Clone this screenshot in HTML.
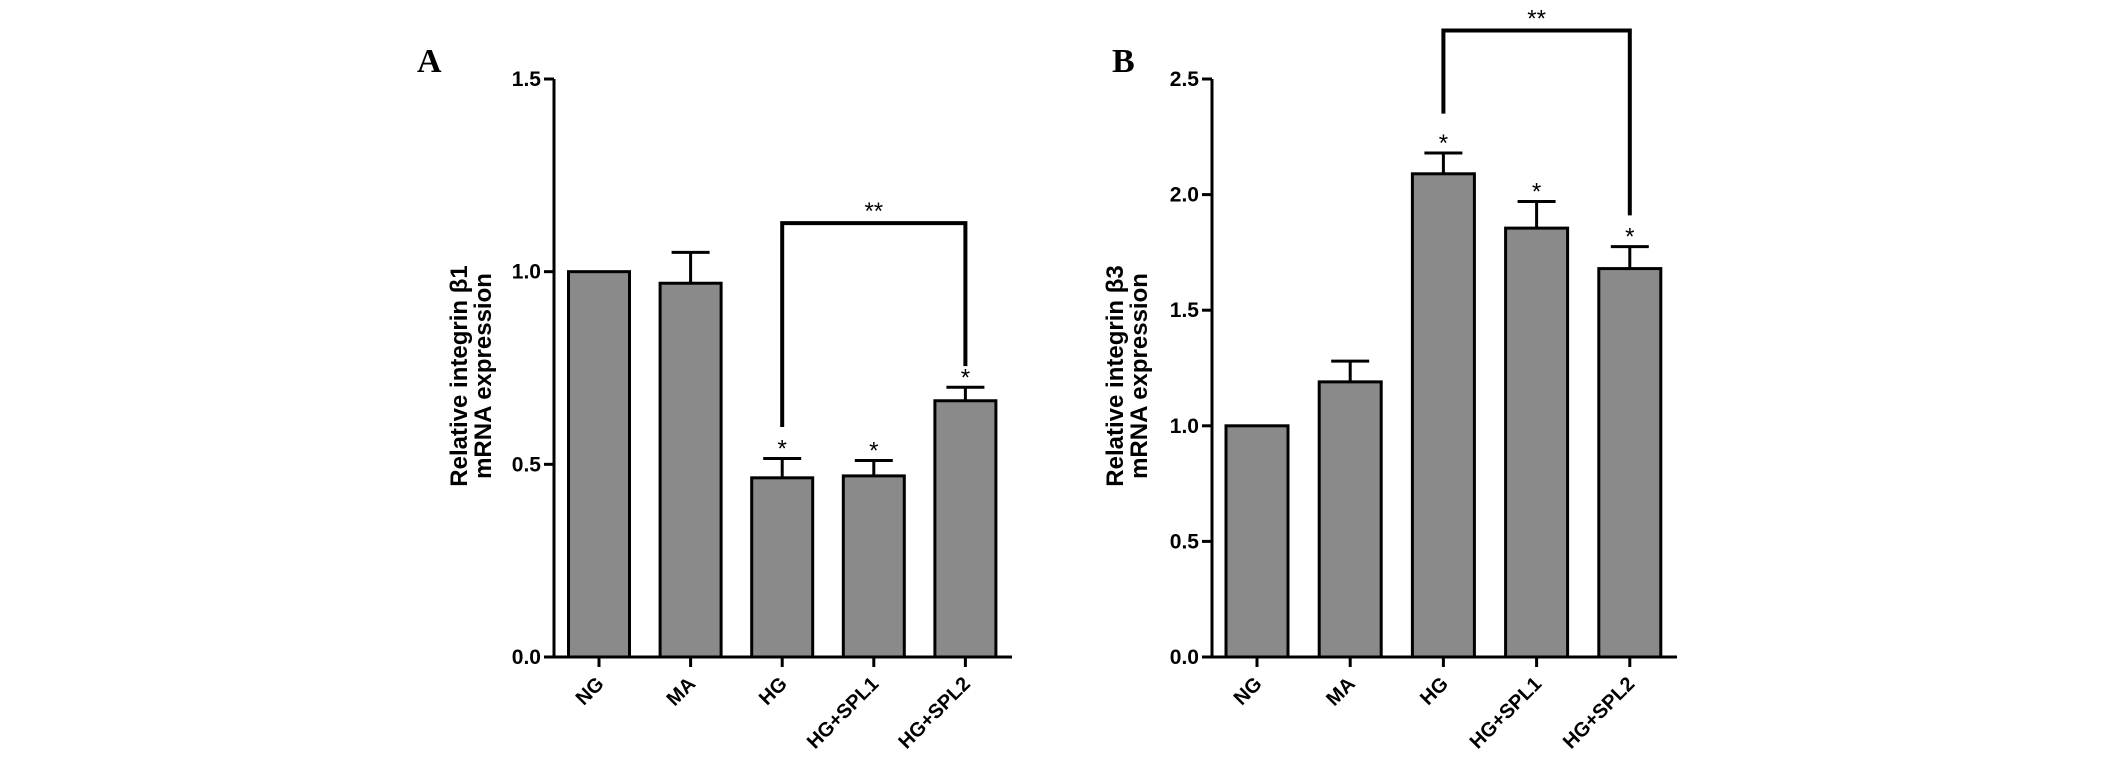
<!DOCTYPE html>
<html><head><meta charset="utf-8"><style>
html,body{margin:0;padding:0;background:#fff;}
svg{display:block;}
text{font-family:"Liberation Sans",Arial,sans-serif;font-weight:bold;fill:#000;}
</style></head><body>
<svg id="chart" width="2126" height="773" viewBox="0 0 2126 773" xmlns="http://www.w3.org/2000/svg"></svg>
<script>
const categories = ["NG","MA","HG","HG+SPL1","HG+SPL2"];
const valuesA = [1.0, 0.97, 0.465, 0.47, 0.665];
const errorsA = [0, 0.08, 0.05, 0.04, 0.035];
const starsA = ["", "", "*", "*", "*"];
const ticksA = [0.0, 0.5, 1.0, 1.5];
const valuesB = [1.0, 1.19, 2.09, 1.855, 1.68];
const errorsB = [0, 0.09, 0.09, 0.115, 0.095];
const starsB = ["", "", "*", "*", "*"];
const ticksB = [0.0, 0.5, 1.0, 1.5, 2.0, 2.5];
const bracketA = {from: 2, to: 4, top: 1.126, left: 0.597, right: 0.755, label: "**"};
const bracketB = {from: 2, to: 4, top: 2.71, left: 2.35, right: 1.91, label: "**"};

const svg = document.getElementById('chart');
const NS = 'http://www.w3.org/2000/svg';
function mk(tag, attrs, parent, text) {
  const e = document.createElementNS(NS, tag);
  for (const k in attrs) e.setAttribute(k, attrs[k]);
  if (text !== undefined) e.textContent = text;
  (parent || svg).appendChild(e);
  return e;
}

function panel(cfg) {
  const g = mk('g', {});
  
  
  const y = v => cfg.y0 - (v / cfg.max) * (cfg.y0 - cfg.yTop);
  const x = i => cfg.xFirst + i * cfg.step;
  const L = mk('text', {x: cfg.letterX, y: 72, 'font-size': 34, style: 'font-family:"Liberation Serif",serif;font-weight:bold'}, g, cfg.letter);
  
  
  cfg.values.forEach((v, i) => {
    const b = mk('rect', {x: x(i) - cfg.bw / 2, y: y(v), width: cfg.bw, height: cfg.y0 - y(v), fill: '#8a8a8a', stroke: '#000', 'stroke-width': 3}, g);
    
    
    const e = cfg.errors[i];
    if (e > 0) {
      const eb = mk('path', {d: `M${x(i)} ${y(v)} V${y(v + e)} M${x(i) - 19} ${y(v + e)} H${x(i) + 19}`, stroke: '#000', 'stroke-width': 3, fill: 'none'}, g);
      
      
    }
    if (cfg.stars[i]) {
      const s = mk('text', {x: x(i), y: y(v + e) - 2, 'font-size': 24, 'text-anchor': 'middle', style: 'font-weight:normal'}, g, cfg.stars[i]);
      
      
    }
    mk('line', {x1: x(i), x2: x(i), y1: cfg.y0, y2: cfg.y0 + 10, stroke: '#000', 'stroke-width': 3}, g);
    const t = mk('text', {x: 0, y: 0, 'font-size': 20, 'text-anchor': 'end', transform: `translate(${x(i) + 6},${cfg.y0 + 28}) rotate(-45)`}, g, categories[i]);
    
    
  });
  const ax = mk('path', {d: `M${cfg.ax} ${cfg.yTop} V${cfg.y0} H${cfg.axEnd}`, stroke: '#000', 'stroke-width': 3, fill: 'none'}, g);
  
  
  cfg.ticks.forEach(t => {
    mk('line', {x1: cfg.ax - 10, x2: cfg.ax, y1: y(t), y2: y(t), stroke: '#000', 'stroke-width': 3}, g);
    const tl = mk('text', {x: cfg.ax - 13, y: y(t) + 7, 'font-size': 21, 'text-anchor': 'end'}, g, t.toFixed(1));
    
    
  });
  const yt = mk('text', {x: 0, y: 0, 'font-size': 24, 'text-anchor': 'middle', transform: `translate(${cfg.titleX},${cfg.titleY}) rotate(-90)`}, g);
  
  
  mk('tspan', {x: 0, dy: 0}, yt, cfg.title1);
  mk('tspan', {x: 0, dy: 24}, yt, 'mRNA expression');
  const br = cfg.bracket;
  const bp = mk('path', {d: `M${x(br.from)} ${y(br.left)} V${y(br.top)} H${x(br.to)} V${y(br.right)}`, stroke: '#000', 'stroke-width': 4, fill: 'none'}, g);
  
  
  const bl = mk('text', {x: (x(br.from) + x(br.to)) / 2, y: y(br.top) - 4, 'font-size': 24, 'text-anchor': 'middle', style: 'font-weight:normal'}, g, br.label);
  
  
}

panel({name: 'panel-a', letter: 'A', letterX: 417, values: valuesA, errors: errorsA, stars: starsA, ticks: ticksA, max: 1.5,
  y0: 657, yTop: 79, ax: 554, axEnd: 1012, xFirst: 599, step: 91.6, bw: 61,
  titleX: 467, titleY: 376, title1: 'Relative integrin \u03b21', bracket: bracketA});
panel({name: 'panel-b', letter: 'B', letterX: 1112, values: valuesB, errors: errorsB, stars: starsB, ticks: ticksB, max: 2.5,
  y0: 657, yTop: 79, ax: 1212, axEnd: 1677, xFirst: 1257, step: 93.2, bw: 62,
  titleX: 1123, titleY: 376, title1: 'Relative integrin \u03b23', bracket: bracketB});
</script>
</body></html>
